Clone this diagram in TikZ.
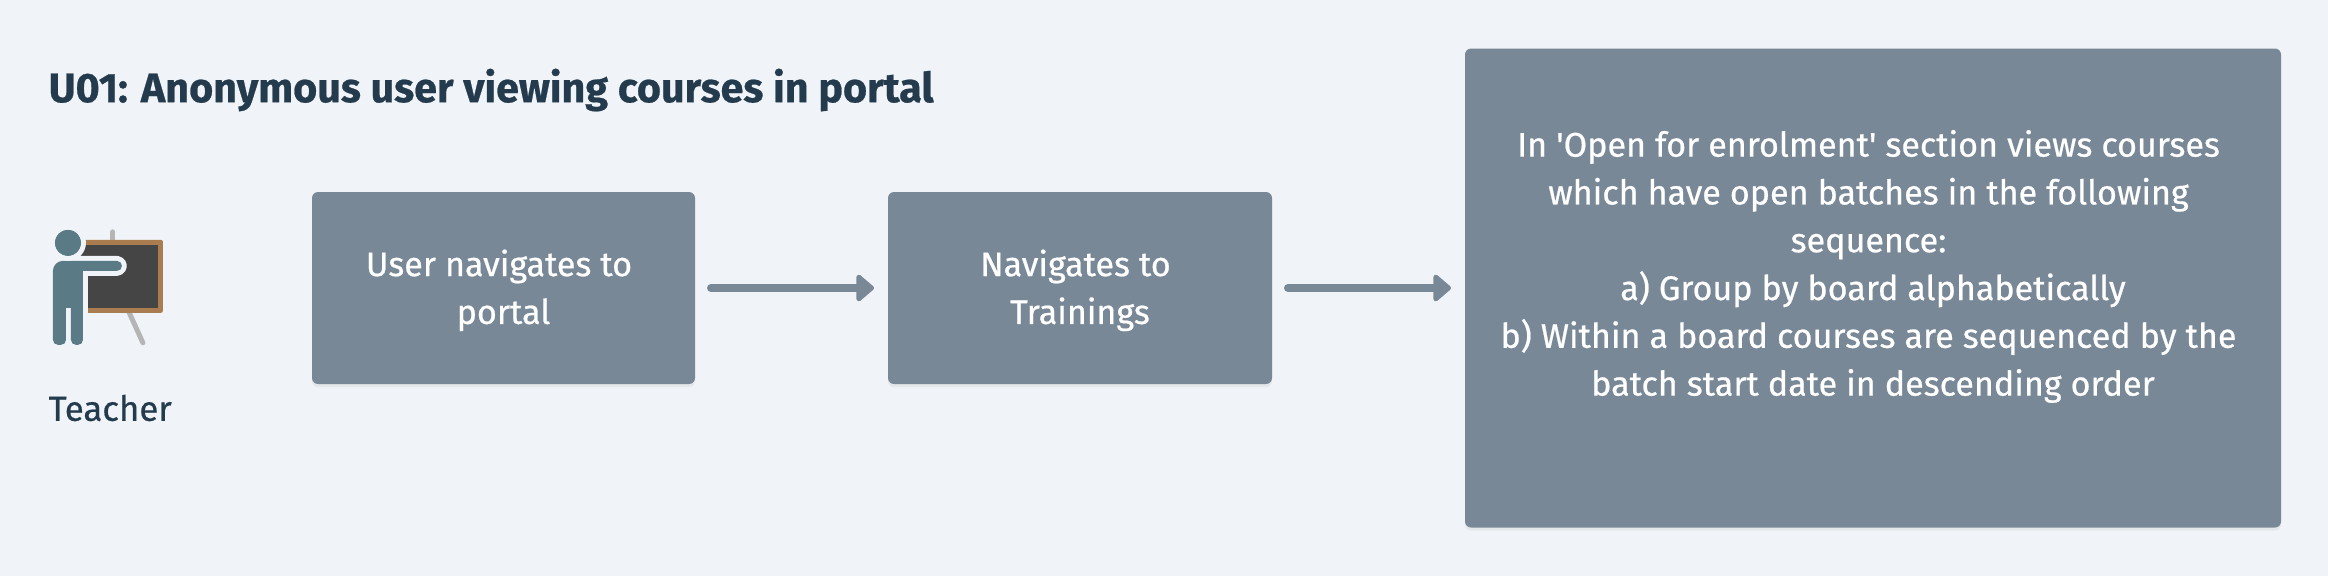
\documentclass[tikz,border=0pt]{standalone}
\usepackage{fontspec}
\setmainfont[FakeBold=0.6]{Fira Sans}
\usetikzlibrary{arrows.meta,positioning,shadows}
\definecolor{UPaper}{HTML}{F0F4F8}
\definecolor{USlate}{HTML}{798896}
\definecolor{UInk}{HTML}{243B4E}
\definecolor{UPerson}{HTML}{5A7A86}
\definecolor{UFrame}{HTML}{A97D50}
\definecolor{UBoard}{HTML}{454545}
\definecolor{UEasel}{HTML}{B5B5B5}
\newcommand{\ustrut}{\rule[-0.09cm]{0pt}{0.42cm}}
\newcommand{\utrail}{\kern0.09cm}
\newcommand{\upersonpath}{(53,340) -- (53,271) .. controls (53,265.5) and (57.5,261) .. (63,261) -- (117,261) .. controls (120,261) and (122,263.5) .. (122,266) .. controls (122,269) and (120,271) .. (117,271) -- (83,271) -- (83,340) .. controls (83,343) and (81,345) .. (78,345) -- (76,345) .. controls (73,345) and (71,343) .. (71,340) -- (71,308) -- (66,308) -- (66,340) .. controls (66,343) and (64,345) .. (61,345) -- (58,345) .. controls (55,345) and (53,343) .. (53,340) -- cycle}
\tikzset{
  ubox/.style={
    fill=USlate,
    rounded corners=0.06cm,
    align=center,
    inner sep=0pt,
    outer sep=0pt,
    text=white,
    font=\fontsize{9.7}{13.6}\selectfont,
    drop shadow={opacity=0.10,shadow xshift=0cm,shadow yshift=-0.03cm}
  },
  uflow/.style={
    -{Triangle[length=0.19cm,width=0.31cm,round]},
    draw=USlate,
    line width=0.08cm,
    line cap=round,
    shorten <=0.16cm,
    shorten >=0.14cm
  },
  ulabel/.style={anchor=west,inner sep=0pt,text=UInk}
}
\begin{document}
\begin{tikzpicture}[node distance=1.93cm]
  \useasboundingbox[fill=UPaper] (0,0) rectangle (23.28,5.76);
  \node[ulabel,font=\fontsize{11.75}{14}\selectfont\bfseries] (title) at (0.48,4.86) {U01: Anonymous user viewing courses in portal};
  \node[ubox,minimum width=3.83cm,minimum height=1.92cm] (portal) at (5.035,2.88) {\ustrut User navigates to\utrail\\portal\ustrut};
  \node[ubox,right=of portal,minimum width=3.84cm,minimum height=1.92cm] (trainings) {\ustrut Navigates to\utrail\\Trainings\ustrut};
  \node[ubox,right=of trainings,minimum width=8.16cm,minimum height=4.79cm] (courses) {\ustrut In \textquotesingle Open for enrolment\textquotesingle{} section views courses\utrail\\which have open batches in the following\utrail\\sequence:\utrail\\a) Group by board alphabetically\\b) Within a board courses are sequenced by the\utrail\\batch start date in descending order\\\ustrut};
  \node[ulabel,font=\fontsize{9.9}{12}\selectfont] (teacher) at (0.48,1.68) {Teacher};
  \draw[uflow] (portal) -- (trainings);
  \draw[uflow] (trainings) -- (courses);
  % teacher icon
  \begin{scope}[x=0.01cm,y=-0.01cm,yshift=5.76cm]
    \draw[UEasel,line width=0.05cm,line cap=round] (113,232) -- (113,245);
    \draw[UEasel,line width=0.05cm,line cap=round] (128,310) -- (143,343);
    \fill[UFrame,rounded corners=0.02cm] (80,240) rectangle (163,313);
    \fill[UBoard] (80,245) rectangle (158,308);
    \draw[UPaper,fill=UPaper,line width=0.1cm,line join=round] \upersonpath;
    \fill[UPerson] \upersonpath;
    \fill[UPerson,draw=UPaper,line width=0.05cm] (68,243) circle (15.5);
    \fill[UPerson] (68,243) circle (13);
  \end{scope}
\end{tikzpicture}
\end{document}
